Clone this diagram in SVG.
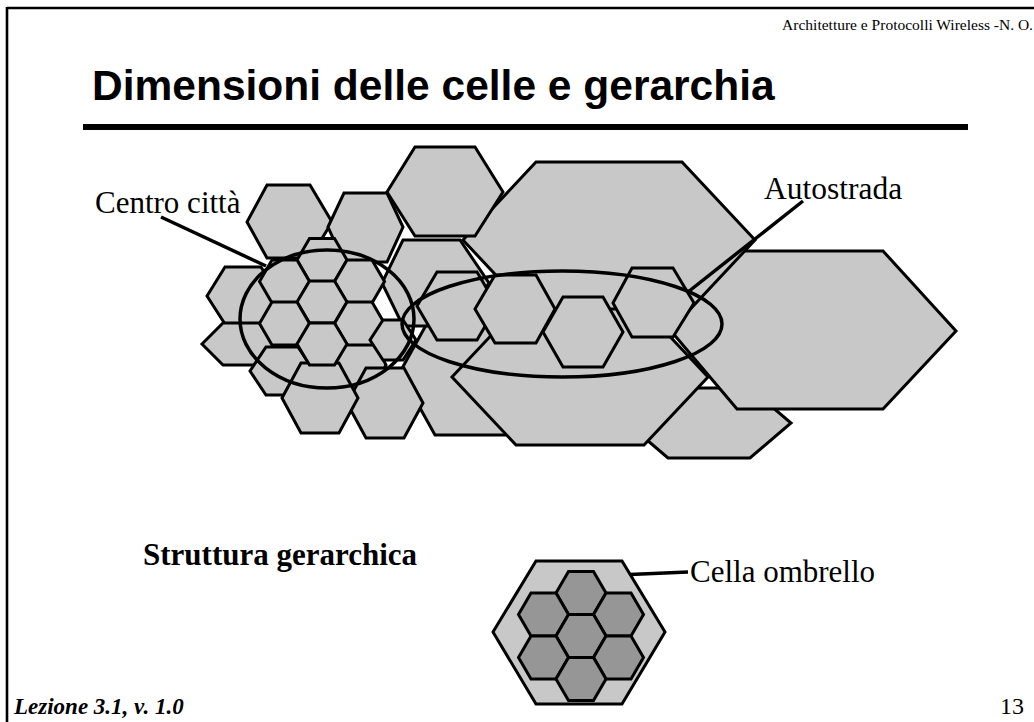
<svg xmlns="http://www.w3.org/2000/svg" width="1034" height="722" viewBox="0 0 1034 722">
<style>
.c{fill:#c8c8c8;stroke:#000;stroke-width:3;stroke-linejoin:miter}
.d{fill:#969696;stroke:#000;stroke-width:3}
.el{fill:none;stroke:#000;stroke-width:3.5}
.ln{stroke:#000;stroke-width:3.5;fill:none}
.t{font-family:"Liberation Serif","Times New Roman",serif;fill:#000}
</style>
<rect width="1034" height="722" fill="#fff"/>
<g id="frame">
<line x1="7" y1="8" x2="1034" y2="8" stroke="#000" stroke-width="2.6"/>
<line x1="7" y1="7" x2="7" y2="722" stroke="#000" stroke-width="2.6"/>
<text class="t" x="1033" y="30" font-size="15.5" text-anchor="end">Architetture e Protocolli Wireless -N. O.</text>
<text x="92" y="100" font-family="Liberation Sans, Arial, sans-serif" font-weight="bold" font-size="42.5">Dimensioni delle celle e gerarchia</text>
<rect x="83" y="124" width="885" height="6" fill="#000"/>
<text class="t" x="14" y="714" font-size="23" font-weight="bold" font-style="italic">Lezione 3.1, v. 1.0</text>
<text class="t" x="1000" y="714" font-size="24">13</text>
</g>
<g id="cells">
<polygon class="c" points="627,423 668,388 750,388 791,423 750,458 668,458"/>
<polygon class="c" points="671,331 737,251 883,251 956,331 883,409 737,409"/>
<polygon class="c" points="463,240 536,162 682,162 755,240 682,318 536,318"/>
<polygon class="c" points="387,192 415,147 475,147 503,192 475,236 415,236"/>
<polygon class="c" points="247,222 267,185 310,185 332,222 310,258 267,258"/>
<polygon class="c" points="328,227 344,193 387,193 403,227 387,262 344,262"/>
<polygon class="c" points="400,372 435,309 505,309 540,372 505,435 435,435"/>
<polygon class="c" points="452,377 516,309 644,309 708,377 644,445 516,445"/>
<polygon class="c" points="382,283 403,240 460,240 489,283 460,326 403,326"/>
<polygon class="c" points="417,306 437,272 477,272 497,306 477,340 437,340"/>
<polygon class="c" points="543,332 563,297 603,297 623,332 603,367 563,367"/>
<polygon class="c" points="613,303 632,268 673,268 694,303 673,337 632,337"/>
<polygon class="c" points="475,309 495,275 536,275 555,309 536,343 495,343"/>
<polygon class="c" points="326,365 341,335 371,335 386,365 371,395 341,395"/>
<polygon class="c" points="207,296 225,267 261,267 279,296 261,324 225,324"/>
<polygon class="c" points="202,344 223,323 265,323 286,344 265,365 223,365"/>
<polygon class="c" points="250,371 266,347 298,347 314,371 298,395 266,395"/>
<polygon class="c" points="347,403 366,368 404,368 423,403 404,438 366,438"/>
<polygon class="c" points="282,398 301,363 339,363 358,398 339,433 301,433"/>
<g id="city-flower">
<polygon class="c" points="297,260 309.5,238.5 334.5,238.5 347,260 334.5,281.5 309.5,281.5"/>
<polygon class="c" points="259.5,281.5 272,260 297,260 309.5,281.5 297,303 272,303"/>
<polygon class="c" points="334.5,281.5 347,260 372,260 384.5,281.5 372,303 347,303"/>
<polygon class="c" points="297,302 309.5,281 334.5,281 347,302 334.5,323 309.5,323"/>
<polygon class="c" points="259.5,323.5 272,302 297,302 309.5,323.5 297,345 272,345"/>
<polygon class="c" points="334.5,323.5 347,302 372,302 384.5,323.5 372,345 347,345"/>
<polygon class="c" points="297,344 309.5,323 334.5,323 347,344 334.5,365 309.5,365"/>
</g>
<polygon class="c" points="370,340 383,320 403,320 416,340 403,360 383,360"/>
</g>
<g id="connectors">
<ellipse class="el" cx="327" cy="319" rx="87" ry="69"/>
<ellipse class="el" cx="562" cy="324" rx="160" ry="53"/>
<line class="ln" x1="161" y1="217" x2="266" y2="266"/>
<line class="ln" x1="803" y1="201" x2="688" y2="292"/>
<line class="ln" x1="618" y1="575" x2="688" y2="572"/>
</g>
<g id="labels">
<text class="t" x="95" y="213" font-size="31">Centro città</text>
<text class="t" x="764" y="199" font-size="31.5">Autostrada</text>
<text class="t" x="143" y="565" font-size="31" font-weight="bold">Struttura gerarchica</text>
<text class="t" x="690" y="582" font-size="31">Cella ombrello</text>
</g>
<g id="umbrella">
<polygon class="c" points="493,632 536,561 622,561 665,632 622,704 536,704"/>
<polygon class="d" points="556,593 568.5,571.5 593.5,571.5 606,593 593.5,614.5 568.5,614.5"/>
<polygon class="d" points="518.5,614.5 531,593 556,593 568.5,614.5 556,636 531,636"/>
<polygon class="d" points="593.5,614.5 606,593 631,593 643.5,614.5 631,636 606,636"/>
<polygon class="d" points="556,636 568.5,614.5 593.5,614.5 606,636 593.5,657.5 568.5,657.5"/>
<polygon class="d" points="518.5,657.5 531,636 556,636 568.5,657.5 556,679 531,679"/>
<polygon class="d" points="593.5,657.5 606,636 631,636 643.5,657.5 631,679 606,679"/>
<polygon class="d" points="556,679 568.5,657.5 593.5,657.5 606,679 593.5,700.5 568.5,700.5"/>
</g>
</svg>
